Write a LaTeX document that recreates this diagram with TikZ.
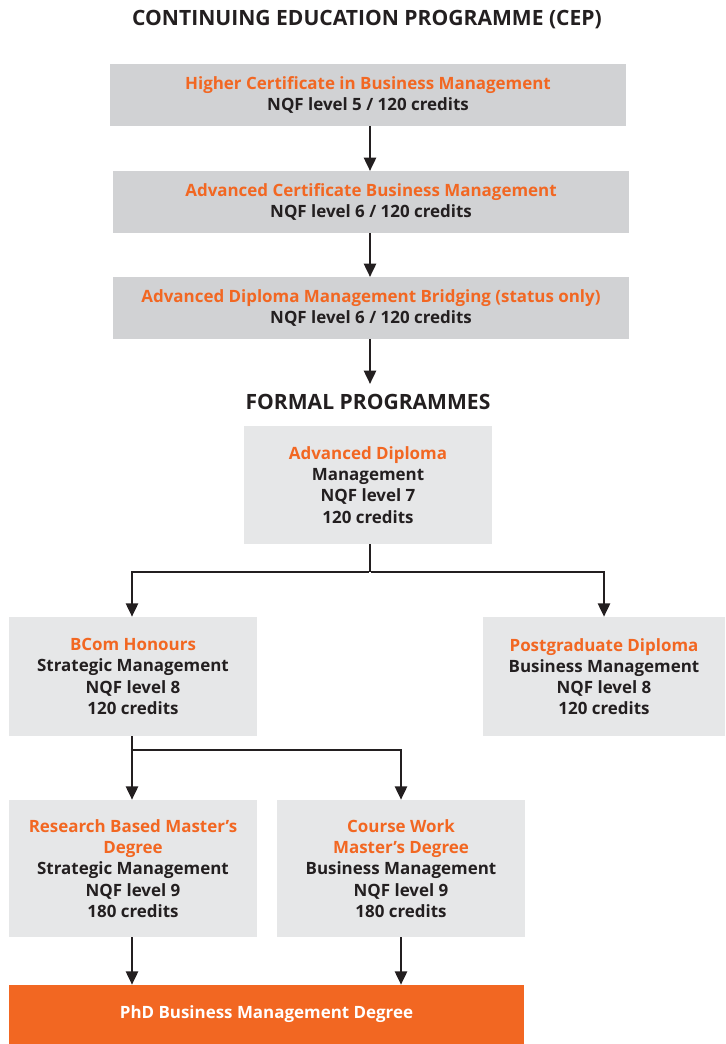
\documentclass[tikz,border=0pt]{standalone}
\usepackage{fontspec}
\setmainfont{Open Sans}
\usetikzlibrary{arrows.meta}
\definecolor{boxdark}{HTML}{D1D2D4}
\definecolor{boxlight}{HTML}{E6E7E8}
\definecolor{orng}{HTML}{F26722}
\definecolor{ink}{HTML}{231F20}
\def\u{0.75pt}
\tikzset{
  box/.style={fill=boxlight, draw=none, align=center, inner sep=0pt,
    font=\bfseries\fontsize{12.7}{15.9}\selectfont, text=ink},
  cepbox/.style={box, fill=boxdark, minimum width=516*\u, minimum height=62*\u},
  formbox/.style={box, minimum width=248*\u},
  hd/.style={font=\bfseries\fontsize{15.8}{18}\selectfont, text=ink},
  conn/.style={draw=ink, line width=1.9pt},
  arr/.style={conn, -{Triangle[length=10pt,width=9pt]}},
}
\newcommand{\ot}[1]{\textcolor{orng}{#1}}
\begin{document}
\begin{tikzpicture}[x=0.75pt,y=-0.75pt]
\useasboundingbox (0,0) rectangle (725,1044);
\node[hd] (t1) at (367,20) {CONTINUING EDUCATION PROGRAMME (CEP)};
\node[cepbox] (b1) at (368,95) {\ot{Higher Certificate in Business Management}\\NQF level 5 / 120 credits};
\node[cepbox] (b2) at (371,202) {\ot{Advanced Certificate Business Management}\\NQF level 6 / 120 credits};
\node[cepbox] (b3) at (371,308) {\ot{Advanced Diploma Management Bridging (status only)}\\NQF level 6 / 120 credits};
\node[hd] (t2) at (368,402) {FORMAL PROGRAMMES};
\node[formbox, minimum height=118*\u] (b4) at (368,485) {\ot{Advanced Diploma}\\Management\\NQF level 7\\120 credits};
\node[formbox, minimum height=119*\u] (b5) at (133,676.5) {\ot{BCom Honours}\\Strategic Management\\NQF level 8\\120 credits};
\node[box, minimum width=242*\u, minimum height=119*\u] (b6) at (604,676.5) {\ot{Postgraduate Diploma}\\Business Management\\NQF level 8\\120 credits};
\node[formbox, minimum height=137*\u] (b7) at (133,868.5) {\ot{Research Based Master's}\\\ot{Degree}\\Strategic Management\\NQF level 9\\180 credits};
\node[formbox, minimum height=137*\u] (b8) at (401,868.5) {\ot{Course Work}\\\ot{Master's Degree}\\Business Management\\NQF level 9\\180 credits};
\node[box, fill=orng, text=white, minimum width=515*\u, minimum height=59*\u] (b9) at (266.5,1014.5) {PhD Business Management Degree};
\coordinate (j1) at (370,572);
\coordinate (j2) at (132,750);
\draw[arr] (370,126) -- (370,171);
\draw[arr] (370,233) -- (370,277);
\draw[arr] (370,339) -- (370,384);
\draw[conn] (b4.south -| j1) -- (j1);
\draw[arr] ([xshift=-0.95pt]j1) -| ([xshift=-0.75pt]b5.north);
\draw[arr] ([xshift=0.95pt]j1) -| (b6.north);
\draw[conn] (b5.south -| j2) -- (j2);
\draw[arr] (j2) -- (b7.north -| j2);
\draw[arr] ([xshift=-0.95pt]j2) -| (b8.north);
\draw[arr] (b7.south -| j2) -- (b9.north -| j2);
\draw[arr] (b8.south) -- (b9.north -| b8.south);
\end{tikzpicture}
\end{document}
